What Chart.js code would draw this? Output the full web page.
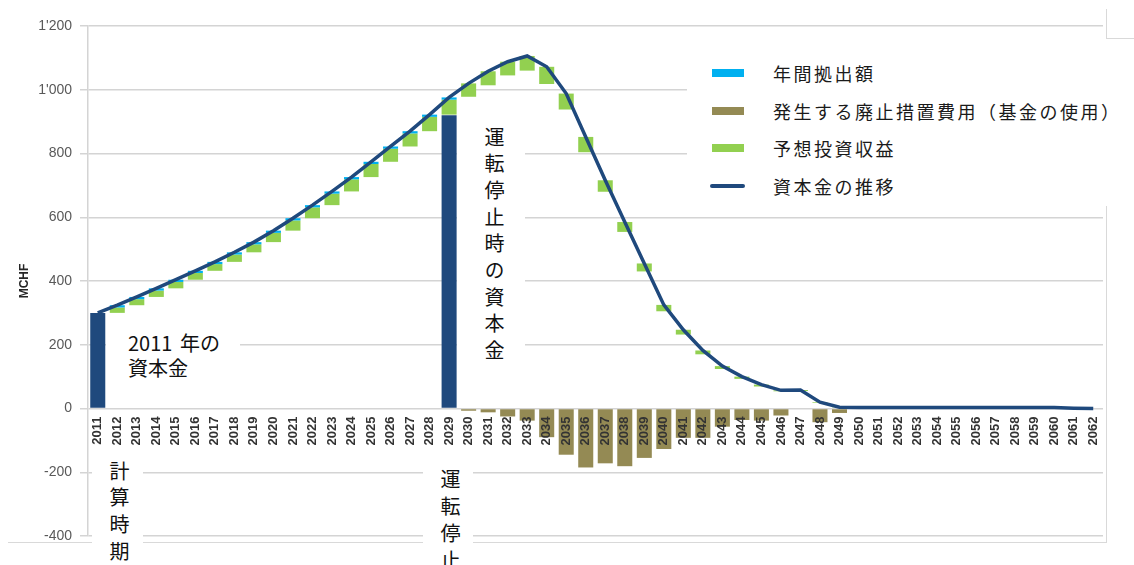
<!DOCTYPE html>
<html lang="ja">
<head>
<meta charset="utf-8">
<title>資本金の推移</title>
<script src="https://cdn.jsdelivr.net/npm/chart.js@4.4.1/dist/chart.umd.min.js"></script>
<style>
    html, body { margin: 0; padding: 0; background: #ffffff; }
    .wrap {
        position: relative;
        width: 1134px;
        height: 565px;
        overflow: hidden;
        font-family: "Noto Sans CJK JP", "Noto Sans", sans-serif;
    }
    .wrap canvas { position: absolute; left: 0; top: 0; }
    .frame { position: absolute; border-color: #d9d9d9; border-style: solid; border-width: 0; }
    .note {
        position: absolute;
        background: #ffffff;
        color: #111111;
        font-size: 20px;
    }
    .note .v {
        position: absolute;
        writing-mode: vertical-rl;
        text-orientation: upright;
        white-space: nowrap;
        line-height: 20px;
        letter-spacing: 6.7px;
    }
    .legend {
        position: absolute;
        left: 687px; top: 40px;
        width: 447px; height: 166px;
        background: #ffffff;
    }
    .legend .item {
        position: absolute;
        left: 0; height: 24px;
        display: flex; align-items: center;
        font-size: 18px; letter-spacing: 2.5px; color: #1a1a1a;
    }
    .legend .sw { position: absolute; left: 25px; width: 32px; height: 8px; }
    .legend .sw.line { left: 23px; width: 35px; height: 4px; border-radius: 2px; }
    .legend .txt { position: absolute; left: 86px; white-space: nowrap; }
</style>
</head>
<body>
<div class="wrap">
    <canvas id="chart" width="1134" height="565"></canvas>

    <!-- outer frame fragments -->
    <div class="frame" style="left:8px; top:542px; width:1099px; border-top-width:1.5px;"></div>
    <div class="frame" style="left:1106px; top:205px; height:338px; border-left-width:1.5px;"></div>
    <div class="frame" style="left:1106px; top:9px; height:30px; border-left-width:1.5px;"></div>
    <div class="frame" style="left:1107px; top:38px; width:27px; border-top-width:1.5px;"></div>

    <!-- annotations -->
    <div class="note" style="left:106px; top:320px; width:134px; height:73px;">
        <div style="position:absolute; left:22px; top:10px; line-height:25px; white-space:nowrap; word-spacing:3px;">2011 年の<br>資本金</div>
    </div>
    <div class="note" style="left:457px; top:118px; width:68px; height:275px;">
        <div class="v" style="left:27px; top:9px;">運転停止時の資本金</div>
    </div>
    <div class="note" style="left:92px; top:455px; width:51px; height:110px;">
        <div class="v" style="left:17px; top:6px;">計算時期</div>
    </div>
    <div class="note" style="left:423px; top:458px; width:50px; height:107px;">
        <div class="v" style="left:17px; top:11px; letter-spacing:7px;">運転停止</div>
    </div>

    <div class="legend" id="legend"></div>
</div>

<script>
// --- data (MCHF) ---
const years = [
    '2011', '2012', '2013', '2014', '2015', '2016', '2017', '2018', '2019', '2020',
    '2021', '2022', '2023', '2024', '2025', '2026', '2027', '2028', '2029', '2030',
    '2031', '2032', '2033', '2034', '2035', '2036', '2037', '2038', '2039', '2040',
    '2041', '2042', '2043', '2044', '2045', '2046', '2047', '2048', '2049', '2050',
    '2051', '2052', '2053', '2054', '2055', '2056', '2057', '2058', '2059', '2060',
    '2061', '2062'
];

// 資本金の推移 (line)
const capital = [
    300, 324, 350, 377, 404, 432, 460, 490, 522, 558,
    597, 638, 681, 726, 774, 822, 870, 922, 976, 1020,
    1058, 1088, 1106, 1072, 988, 852, 716, 585, 455, 325,
    247, 182, 133, 100, 75, 57, 58, 20, 4, 3,
    3, 3, 3, 3, 3, 3, 3, 3, 3, 3,
    1, 0
];

// 年間拠出額 (cyan)
const contribution = [
    null, 7, 7, 7, 7, 7, 7, 7, 7, 7,
    7, 7, 7, 7, 7, 7, 7, 7, 7, null,
    null, null, null, null, null, null, null, null, null, null,
    null, null, null, null, null, null, null, null, null, null,
    null, null, null, null, null, null, null, null, null, null,
    null, null
];

// 予想投資収益 (green)
const income = [
    null, 17, 19, 20, 20, 21, 21, 23, 25, 29,
    32, 34, 36, 38, 41, 41, 41, 45, 47, 42,
    44, 43, 46, 54, 50, 48, 36, 31, 25, 20,
    15, 12, 9, 7, 6, 3, 3, 2, 1, null,
    null, null, null, null, null, null, null, null, null, null,
    null, null
];

// 発生する廃止措置費用（基金の使用） (olive)
const costs = [
    null, null, null, null, null, null, null, null, null, null,
    null, null, null, null, null, null, null, null, null, -7,
    -12, -25, -38, -90, -145, -185, -172, -181, -155, -127,
    -92, -92, -57, -36, -38, -22, null, -43, -14, null,
    null, null, null, null, null, null, null, null, null, null,
    null, null
];

// capital at 2011 and at shutdown (navy bars)
const baseCapital = [
    300, null, null, null, null, null, null, null, null, null,
    null, null, null, null, null, null, null, null, 920, null,
    null, null, null, null, null, null, null, null, null, null,
    null, null, null, null, null, null, null, null, null, null,
    null, null, null, null, null, null, null, null, null, null,
    null, null
];

const yTickValues = [-400, -200, 0, 200, 400, 600, 800, 1000, 1200];
const yTickLabels = ['-400', '-200', '0', '200', '400', '600', '800', "1'000", "1'200"];

const seriesNames = ['年間拠出額', '発生する廃止措置費用（基金の使用）', '予想投資収益', '資本金の推移'];
const colors = {
    contribution: '#00b0f0',
    costs: '#948a54',
    income: '#92d050',
    capital: '#1f497d'
};

// floating segments for the waterfall look
const contribBars = years.map((_, i) =>
    contribution[i] ? [capital[i] - contribution[i], capital[i]] : null);
const incomeBars = years.map((_, i) => {
    if (!income[i]) return null;
    const top = capital[i] - (contribution[i] || 0);
    return [top - income[i], top];
});

const barCommon = {
    type: 'bar',
    grouped: false,
    barPercentage: 0.77,
    categoryPercentage: 1,
    borderWidth: 0
};

new Chart(document.getElementById('chart').getContext('2d'), {
    data: {
        labels: years,
        datasets: [
            {
                type: 'line',
                label: seriesNames[3],
                data: capital,
                borderColor: colors.capital,
                borderWidth: 3.5,
                pointRadius: 0,
                tension: 0,
                order: 0
            },
            { ...barCommon, label: seriesNames[0], data: contribBars, backgroundColor: colors.contribution, order: 1 },
            { ...barCommon, label: seriesNames[2], data: incomeBars, backgroundColor: colors.income, order: 2 },
            { ...barCommon, label: seriesNames[1], data: costs, backgroundColor: colors.costs, order: 3 },
            { ...barCommon, label: 'base', data: baseCapital, backgroundColor: colors.capital, order: 4 }
        ]
    },
    options: {
        responsive: false,
        animation: false,
        layout: { padding: { top: 26, right: 31, bottom: 29, left: 0 } },
        plugins: {
            legend: { display: false },
            tooltip: { enabled: false }
        },
        scales: {
            x: {
                position: { y: 0 },
                offset: true,
                grid: { display: false, drawTicks: false },
                border: { display: false },
                ticks: {
                    z: 1, // year labels sit on top of the cost bars
                    autoSkip: false,
                    minRotation: 90,
                    maxRotation: 90,
                    padding: 8,
                    color: '#333333',
                    font: { family: 'Liberation Sans', size: 13, weight: 'bold' }
                }
            },
            y: {
                min: -400,
                max: 1200,
                afterFit: (s) => { s.width = 88; },
                afterBuildTicks: (s) => { s.ticks = yTickValues.map(v => ({ value: v })); },
                ticks: {
                    padding: 8,
                    color: '#595959',
                    font: { family: 'Liberation Sans', size: 14 },
                    callback: (v) => yTickLabels[yTickValues.indexOf(v)]
                },
                grid: { color: '#d4d4d4', lineWidth: 1.5, tickLength: 8 },
                border: { display: true, color: '#d4d4d4', width: 1.5 },
                title: {
                    display: true,
                    text: 'MCHF',
                    color: '#262626',
                    font: { family: 'Liberation Sans', size: 12, weight: 'bold' },
                    padding: { top: 17, bottom: 0 }
                }
            }
        }
    }
});

// legend, same order as the original
const legendItems = [
    { name: seriesNames[0], color: colors.contribution, y: 21 },
    { name: seriesNames[1], color: colors.costs, y: 59 },
    { name: seriesNames[2], color: colors.income, y: 96 },
    { name: seriesNames[3], color: colors.capital, y: 134, line: true }
];
const legendEl = document.getElementById('legend');
legendItems.forEach(it => {
    const row = document.createElement('div');
    row.className = 'item';
    row.style.top = it.y + 'px';
    row.style.width = '447px';
    row.innerHTML = `<span class="sw${it.line ? ' line' : ''}" style="background:${it.color}"></span>
        <span class="txt">${it.name}</span>`;
    legendEl.appendChild(row);
});
</script>
</body>
</html>
